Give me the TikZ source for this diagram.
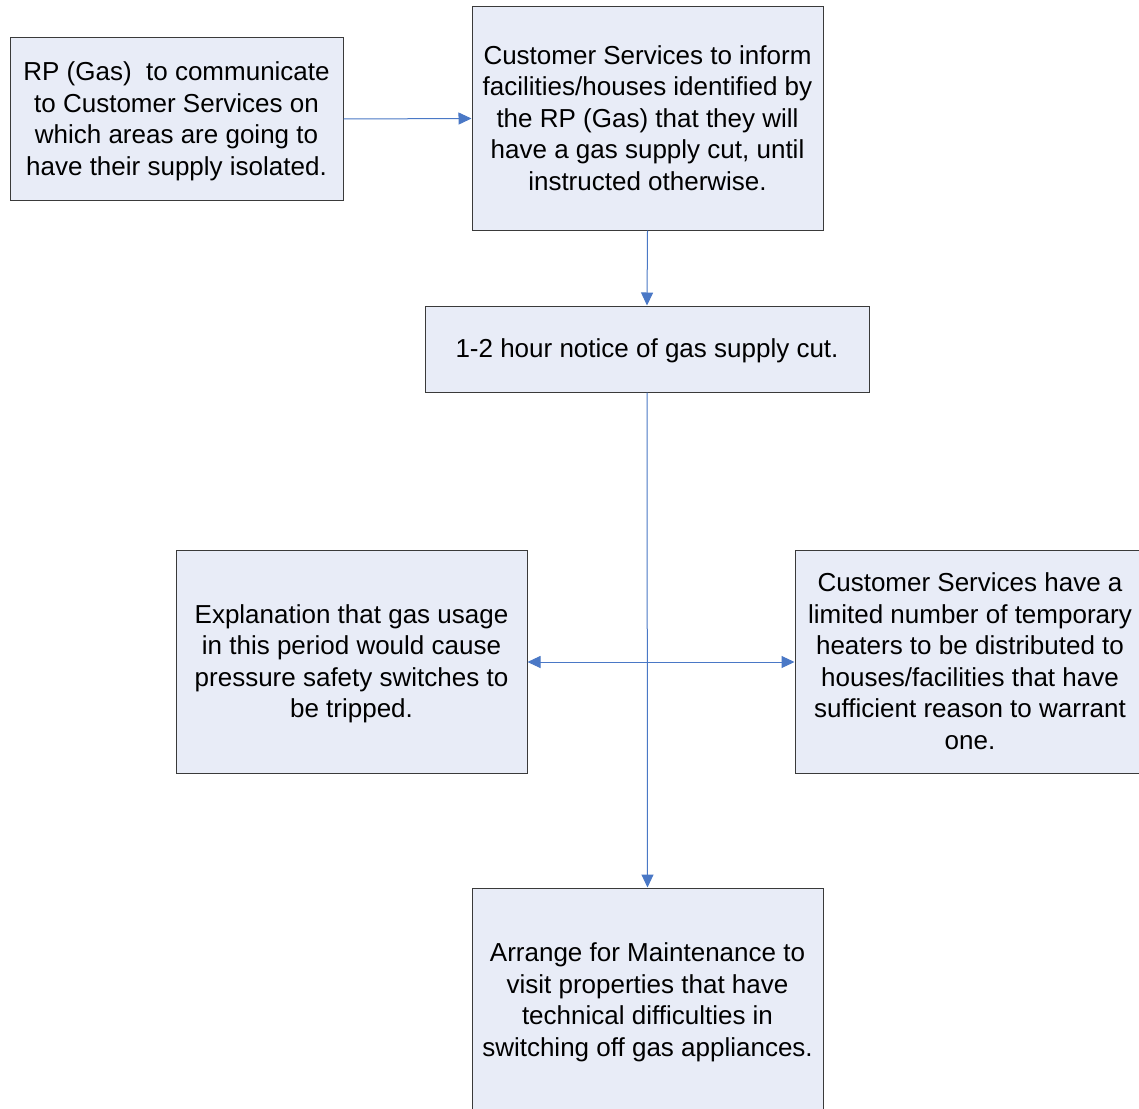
\documentclass[tikz,border=0pt]{standalone}
\usepackage{fontspec}
\setmainfont{Liberation Sans}
\usetikzlibrary{arrows.meta}
\definecolor{boxfill}{HTML}{E8ECF7}
\definecolor{boxline}{HTML}{3A3A3A}
\definecolor{flow}{HTML}{4A78C6}
% centred lines, set a little below the box middle
\newcommand{\steptext}[1]{\raisebox{-2.5pt}[\height][\depth]{\begin{tabular}{@{}c@{}}#1\end{tabular}}}
\tikzset{
  stepbox/.style={draw=boxline, line width=1pt, fill=boxfill, inner sep=0pt,
    font=\fontsize{26pt}{31.5pt}\selectfont},
  flowline/.style={draw=flow, line width=1pt, -{Triangle[length=13pt,width=12pt]}},
  flowboth/.style={draw=flow, line width=1pt, {Triangle[length=13pt,width=12pt]}-{Triangle[length=13pt,width=12pt]}}
}
\begin{document}
\begin{tikzpicture}[x=1pt,y=-1pt]
\clip (0,0) rectangle (1139,1108);
\fill[white] (0,0) rectangle (1139,1108);

\node[stepbox, minimum width=333pt, minimum height=162pt] (rp) at (176.5,119)
  {\steptext{RP (Gas)~ to communicate\\to Customer Services on\\which areas are going to\\have their supply isolated.}};
\node[stepbox, minimum width=351pt, minimum height=223pt] (cs) at (647.5,118.5)
  {\steptext{Customer Services to inform\\facilities/houses identified by\\the RP (Gas) that they will\\have a gas supply cut, until\\instructed otherwise.}};
\node[stepbox, minimum width=444pt, minimum height=86pt] (notice) at (647,349)
  {\steptext{1-2 hour notice of gas supply cut.}};
\node[stepbox, minimum width=351pt, minimum height=223pt] (expl) at (351.5,661.5)
  {\steptext{Explanation that gas usage\\in this period would cause\\pressure safety switches to\\be tripped.}};
\node[stepbox, minimum width=350pt, minimum height=223pt] (heat) at (970,661.5)
  {\steptext{Customer Services have a\\limited number of temporary\\heaters to be distributed to\\houses/facilities that have\\sufficient reason to warrant\\one.}};
\node[stepbox, minimum width=351pt, minimum height=224pt] (maint) at (647.5,1000)
  {\steptext{Arrange for Maintenance to\\visit properties that have\\technical difficulties in\\switching off gas appliances.}};

\coordinate (mid) at (647,662);

\draw[flowline] (rp.east) -- (cs.west);
\draw[flowline] (cs.south) -- (notice.north);
\draw[flowline] (notice.south) -- (maint.north);
\draw[flowboth] (expl.east |- mid) -- (heat.west |- mid);
\end{tikzpicture}
\end{document}
